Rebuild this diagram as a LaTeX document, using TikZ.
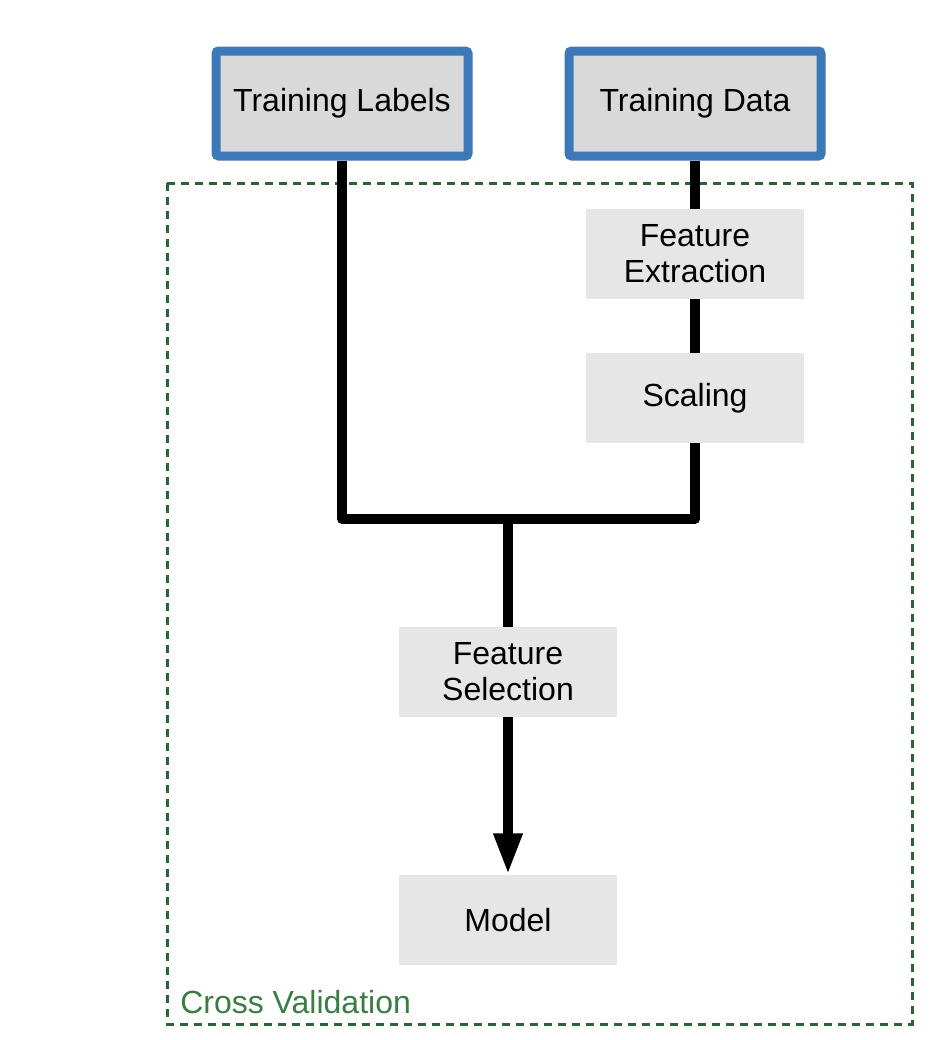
\documentclass[tikz,border=0pt]{standalone}
\usepackage{fontspec}
\setmainfont{Liberation Sans}
\usepackage{xcolor}
\definecolor{edge}{HTML}{3D78B8}
\definecolor{topfill}{HTML}{D9D9D9}
\definecolor{stepfill}{HTML}{E6E6E6}
\definecolor{cvgreen}{HTML}{2B6436}
\definecolor{cvtext}{HTML}{3A7D43}
\usetikzlibrary{positioning,calc,arrows.meta}

\begin{document}
\begin{tikzpicture}[x=0.75pt,y=-0.75pt,font=\fontsize{24}{27}\selectfont,
  srcbox/.style={draw=edge,line width=6.75pt,fill=topfill,rounded corners=2pt,minimum width=189pt,minimum height=78.75pt,inner sep=0pt},
  stagebox/.style={fill=stepfill,minimum width=163.5pt,minimum height=67.5pt,align=center,inner sep=0pt},
  wire/.style={line width=7.5pt,line join=round}]
  \useasboundingbox (0,0) rectangle (934,1040);
  % cross validation frame
  \draw[cvgreen,line width=2.25pt,dash pattern=on 6pt off 4.5pt] (167,183) rectangle (912,1024);
  \node[anchor=base west,text=cvtext,inner sep=0pt] (cv) at (180,1013) {Cross Validation};
  % inputs
  \node[srcbox] (lab) at (342,103.5) {Training Labels};
  \node[srcbox] (dat) at (695,103.5) {Training Data};
  % pipeline steps
  \node[stagebox] (fex) at (695,254) {Feature\\Extraction};
  \node[stagebox] (scl) at (695,398) {Scaling};
  \node[stagebox] (fsel) at (508,672) {Feature\\Selection};
  \node[stagebox] (mdl) at (508,920) {Model};
  \coordinate (join) at (508,519);
  % connectors
  \draw[wire] (dat.south) -- (fex.north);
  \draw[wire] (fex.south) -- (scl.north);
  \draw[wire] (lab.south) |- (scl.south |- join) -- (scl.south);
  \draw[wire] (join) -- (fsel.north);
  \draw[wire,-{Triangle[length=31pt,width=20pt]}] (fsel.south) -- (mdl.north);
\end{tikzpicture}
\end{document}
